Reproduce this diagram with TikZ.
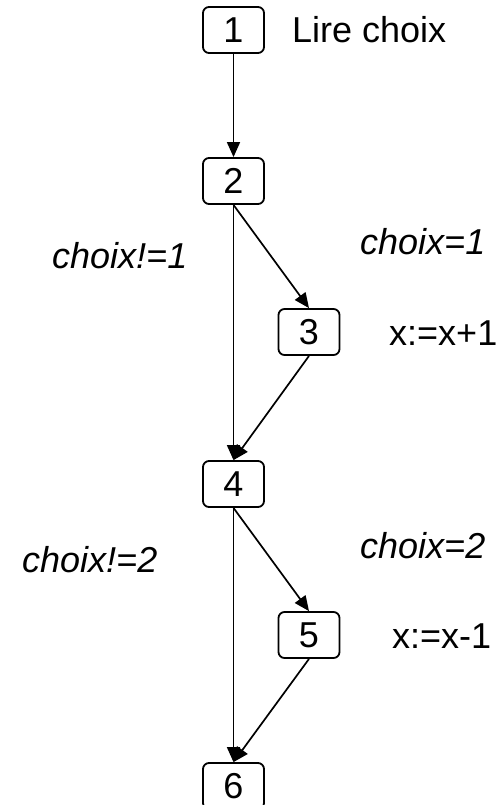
\documentclass[tikz,border=0pt]{standalone}
\usepackage{fontspec}
\setmainfont{Liberation Sans}
\usetikzlibrary{arrows.meta}
\begin{document}
\begin{tikzpicture}[x=1pt,y=-1pt,
  box/.style={draw,line width=1.8pt,rounded corners=6pt,minimum width=61pt,minimum height=46pt,inner sep=0pt,font=\fontsize{36}{43}\selectfont},
  lbl/.style={anchor=base west,inner sep=0pt,font=\fontsize{36}{43}\selectfont},
  ilbl/.style={anchor=base west,inner sep=0pt,font=\fontsize{36}{43}\selectfont\itshape},
  arr/.style={line width=1.7pt,-{Triangle[length=15pt,width=13pt]}}]
\useasboundingbox (0,0) rectangle (499,805);
\clip (0,0) rectangle (499,805);
\node[box] (n1) at (233.5,30) {1};
\node[box] (n2) at (233.5,181) {2};
\node[box] (n3) at (309,332) {3};
\node[box] (n4) at (233.5,484) {4};
\node[box] (n5) at (309,635) {5};
\node[box] (n6) at (233.5,786) {6};
\node[lbl] (t1) at (292,43) {Lire choix};
\node[ilbl] (t2) at (52,268) {choix!=1};
\node[ilbl] (t3) at (360,254) {choix=1};
\node[lbl] (t4) at (389,345) {x:=x+1};
\node[ilbl] (t5) at (22,572) {choix!=2};
\node[ilbl] (t6) at (360,558) {choix=2};
\node[lbl] (t7) at (392,648) {x:=x-1};
\draw[arr] (n1) -- (n2);
\draw[arr] (n2.south) -- (n3.north);
\draw[arr] (n2.south) -- (n4.north);
\draw[arr] (n3.south) -- (n4.north);
\draw[arr] (n4.south) -- (n5.north);
\draw[arr] (n4.south) -- (n6.north);
\draw[arr] (n5.south) -- (n6.north);
\end{tikzpicture}
\end{document}
